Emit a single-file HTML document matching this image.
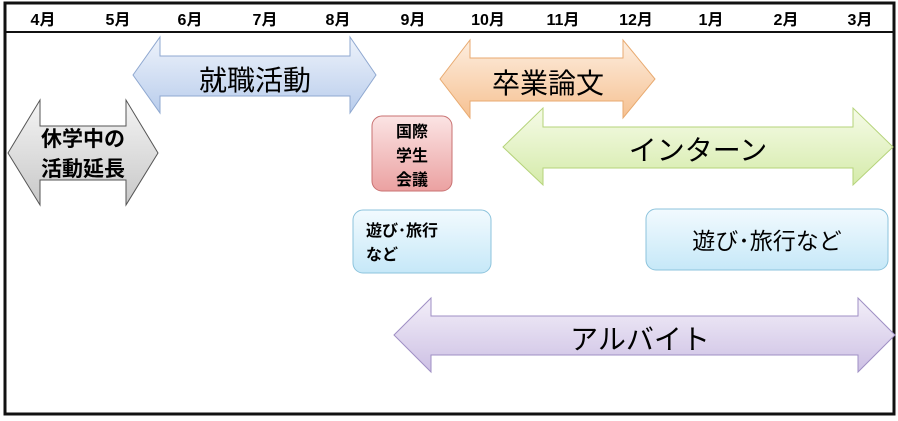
<!DOCTYPE html>
<html><head><meta charset="utf-8"><style>
html,body{margin:0;padding:0;background:#fff;width:898px;height:421px;overflow:hidden}
svg text{font-family:"Liberation Sans","Noto Sans CJK JP",sans-serif;fill:#000}
</style></head><body>
<svg width="898" height="421" viewBox="0 0 898 421" xmlns="http://www.w3.org/2000/svg">
<defs>
<linearGradient id="gb" x1="0" y1="0" x2="0" y2="1"><stop offset="0" stop-color="#eef3fb"/><stop offset="1" stop-color="#b9cdec"/></linearGradient>
<linearGradient id="gg" x1="0" y1="0" x2="0" y2="1"><stop offset="0" stop-color="#f4f4f4"/><stop offset="1" stop-color="#c8c8c8"/></linearGradient>
<linearGradient id="go" x1="0" y1="0" x2="0" y2="1"><stop offset="0" stop-color="#fdeee0"/><stop offset="1" stop-color="#f6c191"/></linearGradient>
<linearGradient id="gl" x1="0" y1="0" x2="0" y2="1"><stop offset="0" stop-color="#f6fbe8"/><stop offset="1" stop-color="#d5ebaa"/></linearGradient>
<linearGradient id="gp" x1="0" y1="0" x2="0" y2="1"><stop offset="0" stop-color="#f3eff9"/><stop offset="1" stop-color="#cdc0e4"/></linearGradient>
<linearGradient id="gr" x1="0" y1="0" x2="0" y2="1"><stop offset="0" stop-color="#fbe4e4"/><stop offset="1" stop-color="#eba1a1"/></linearGradient>
<linearGradient id="gc" x1="0" y1="0" x2="0" y2="1"><stop offset="0" stop-color="#f2fafe"/><stop offset="1" stop-color="#c6e8f8"/></linearGradient>
</defs>
<rect x="5" y="3" width="889" height="411" fill="#fff" stroke="#111" stroke-width="3"/>
<line x1="5" y1="32" x2="894" y2="32" stroke="#111" stroke-width="2"/>
<g font-size="16" font-weight="bold" text-anchor="middle">
<text x="43" y="25">4月</text><text x="118" y="25">5月</text><text x="190" y="25">6月</text><text x="265" y="25">7月</text><text x="338" y="25">8月</text><text x="413" y="25">9月</text><text x="488" y="25">10月</text><text x="563" y="25">11月</text><text x="636" y="25">12月</text><text x="711" y="25">1月</text><text x="786" y="25">2月</text><text x="860" y="25">3月</text>
</g>
<polygon points="133,75 160,37 160,56 350,56 350,37 376,75 350,113 350,96 160,96 160,113" fill="url(#gb)" stroke="#8fa8d0" stroke-width="1"/>
<text x="255" y="90" font-size="28" text-anchor="middle">就職活動</text>
<polygon points="8,153 40,100 40,126 126,126 126,100 158,153 126,205 126,180 40,180 40,205" fill="url(#gg)" stroke="#555" stroke-width="1"/>
<text x="83" y="146" font-size="21" font-weight="bold" text-anchor="middle">休学中の</text>
<text x="83" y="176" font-size="21" font-weight="bold" text-anchor="middle">活動延長</text>
<polygon points="440,79 470,40 470,58 623,58 623,40 655,79 623,118 623,101 470,101 470,118" fill="url(#go)" stroke="#e8aa70" stroke-width="1"/>
<text x="548" y="93" font-size="28" text-anchor="middle">卒業論文</text>
<polygon points="503,147 543,108 543,127 853,127 853,108 893,147 853,185 853,168 543,168 543,185" fill="url(#gl)" stroke="#b5d37a" stroke-width="1"/>
<text x="698" y="160" font-size="28" text-anchor="middle">インターン</text>
<polygon points="394,335 431,298 431,316 858,316 858,298 895,335 858,372 858,355 431,355 431,372" fill="url(#gp)" stroke="#9f8fc4" stroke-width="1"/>
<text x="640" y="349" font-size="28" text-anchor="middle">アルバイト</text>
<rect x="372" y="116" width="80" height="75" rx="10" fill="url(#gr)" stroke="#c97272" stroke-width="1"/>
<g font-size="16" font-weight="bold" text-anchor="middle"><text x="412" y="137">国際</text><text x="412" y="161">学生</text><text x="412" y="185">会議</text></g>
<rect x="353" y="210" width="138" height="63" rx="10" fill="url(#gc)" stroke="#8cc3dc" stroke-width="1"/>
<text x="366" y="236" font-size="16" font-weight="bold">遊び･旅行</text>
<text x="366" y="260" font-size="16" font-weight="bold">など</text>
<rect x="646" y="209" width="242" height="61" rx="10" fill="url(#gc)" stroke="#8cc3dc" stroke-width="1"/>
<text x="767" y="249" font-size="23" text-anchor="middle">遊び･旅行など</text>
</svg>
</body></html>
